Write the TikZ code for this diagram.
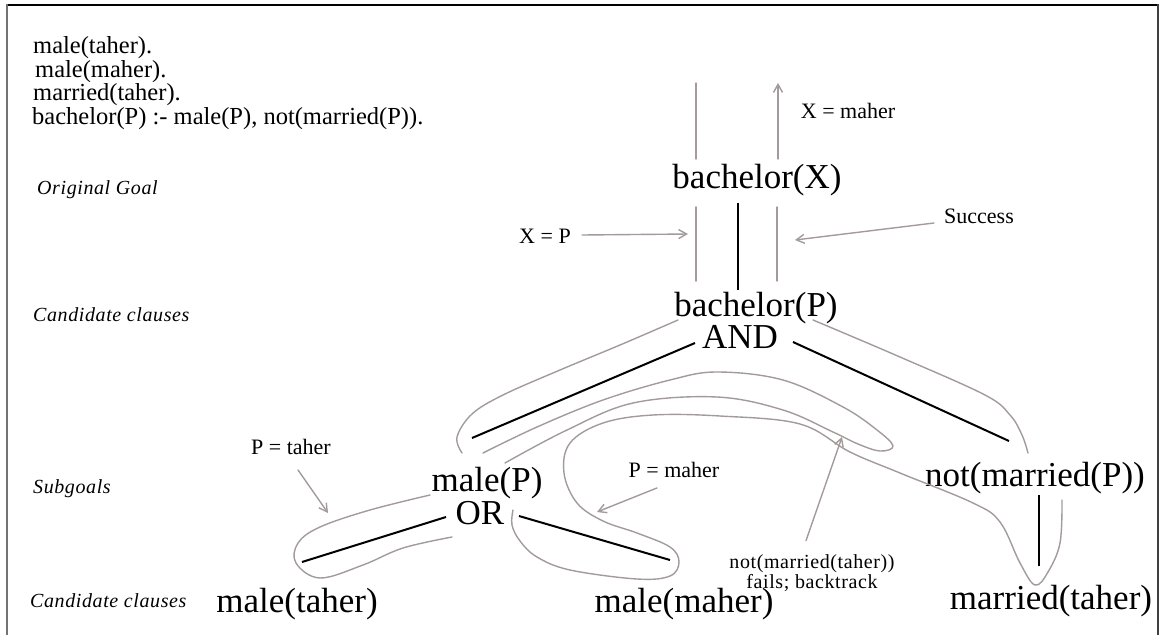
\documentclass[tikz,border=0pt]{standalone}
\usepackage{fontspec}
\setmainfont{Liberation Serif}
\newfontfamily\sidefont[LetterSpace=3]{Liberation Serif}
\newfontfamily\notefont[LetterSpace=3]{Liberation Serif}
\usetikzlibrary{arrows.meta,calc}
\definecolor{tracegray}{RGB}{163,155,155}
\begin{document}
\begin{tikzpicture}[x=1pt,y=-1pt,
  goal/.style={inner sep=0pt, font=\fontsize{35}{40}\selectfont},
  fact/.style={inner sep=0pt, anchor=base west, font=\fontsize{24.5}{26}\selectfont},
  note/.style={inner sep=0pt, font=\fontsize{22}{24}\selectfont},
  level/.style={inner sep=0pt, anchor=base west, font=\sidefont\itshape\fontsize{20}{22}\selectfont},
  tree/.style={line width=2pt, black},
  trace/.style={line width=1.4pt, tracegray, line cap=round, line join=round},
  tracearrow/.style={trace, -{Straight Barb[length=8pt,width=9pt]}}]
\useasboundingbox (0,0) rectangle (1165,635);

% frame
\draw[line width=1.4pt, black] (7,5) -- (1158,5);
\draw[line width=2.4pt, black!55] (7,4) -- (7,635);
\draw[line width=1.4pt, black!75] (1158,4) -- (1158,635);

% program text
\node[fact] (f1) at (33,53.5) {male(taher).};
\node[fact] (f2) at (35,77) {male(maher).};
\node[fact] (f3) at (33,100.5) {married(taher).};
\node[fact] (f4) at (32,124) {bachelor(P) :- male(P), not(married(P)).};

% level captions
\node[level] (l1) at (37,194) {Original Goal};
\node[level] (l2) at (33,321) {Candidate clauses};
\node[level] (l3) at (33,493) {Subgoals};
\node[level] (l4) at (30,607) {Candidate clauses};

% goal tree
\node[goal] (bX) at (757,180) {bachelor(X)};
\node[goal] (bP) at (756,308) {bachelor(P)};
\node[goal] (AND) at (740,337) {AND};
\node[goal] (maleP) at (487,483) {male(P)};
\node[goal] (OR) at (480,513) {OR};
\node[goal] (notP) at (1035,478) {not(married(P))};
\node[goal] (maleT) at (297,604) {male(taher)};
\node[goal] (maleM) at (684,604) {male(maher)};
\node[goal] (marT) at (1051,601) {married(taher)};

\draw[tree] ($(bX)+(-19,23)$) -- ($(bP)+(-18,-18)$);
\draw[tree] ($(AND)+(-45,6)$) -- ($(maleP)+(-15,-45)$);
\draw[tree] ($(AND)+(53,5)$) -- ($(notP)+(-26,-37)$);
\draw[tree] ($(OR)+(-34,4)$) -- ($(maleT)+(5,-42)$);
\draw[tree] ($(OR)+(39,3)$) -- ($(maleM)+(-14,-44)$);
\draw[tree] ($(notP)+(4,17)$) -- ($(marT)+(-12,-35)$);

% annotations
\node[note] (xm) at (848,111) {X = maher};
\node[note] (xp) at (545,236) {X = P};
\node[note] (succ) at (979,216) {Success};
\node[note] (pt) at (291,447) {P = taher};
\node[note] (pm) at (674,470) {P = maher};
\node[inner sep=0pt, align=center, font=\notefont\fontsize{20}{17}\selectfont] (fail) at (812,573) {not(married(taher))\\fails; backtrack};

% execution trace
\draw[trace] ($(bX)+(-61,-97)$) -- ($(bX)+(-61,-21)$);
\draw[tracearrow] ($(bX)+(21,-21)$) -- ($(bX)+(21,-97)$);
\draw[trace] ($(bX)+(-61,27)$) -- ($(bX)+(-61,101)$);
\draw[trace] ($(bX)+(20,27)$) -- ($(bX)+(20,101)$);
\draw[tracearrow] ($(xp.east)+(11,-1)$) -- ($(bX)+(-69,54)$);
\draw[tracearrow] ($(succ.west)+(-10,7)$) -- ($(bX)+(38,60)$);
\draw[tracearrow] ($(pt.south)+(7,15)$) -- ($(maleT)+(31,-91)$);
\draw[tracearrow] ($(pm.south)+(-17,10)$) -- ($(maleM)+(-87,-92)$);
\draw[tracearrow] ($(fail.north)+(-6,-14)$) -- ($(marT)+(-209,-164)$);

% left outline from bachelor(P)
\draw[trace] plot[smooth, tension=0.6] coordinates {
  (678,320) (620,345) (560,370) (503,395) (472,414) (457,437) (462,453)};
% right outline from bachelor(P)
\draw[trace] plot[smooth, tension=0.6] coordinates {
  (813,320) (900,357) (985,395) (1010,415) (1022,435) (1028,453)};
% hairpin towards not(married(P))
\draw[trace] plot[smooth, tension=0.6] coordinates {
  (483,453) (537,427) (603,400) (670,380) (717,372) (783,380) (843,407)
  (877,430) (893,446) (880,451) (858,444) (833,432) (783,410) (717,397)
  (633,403) (567,430) (505,463)};
% loop around male(taher)
\draw[trace] plot[smooth, tension=0.6] coordinates {
  (430,495) (370,510) (320,527) (298,543) (296,563) (320,578) (363,565)
  (403,548) (452,537)};
% loop around male(maher), then down to married(taher)
\draw[trace] plot[smooth, tension=0.6] coordinates {
  (513,510) (512,525) (520,541) (537,557) (570,570) (637,579) (670,576)
  (679,562) (670,547) (637,533) (603,521) (577,503) (564,473) (570,443)
  (603,423) (653,415) (720,416) (800,424) (850,452) (900,473) (973,503)
  (1000,522) (1020,563) (1035,585) (1048,572) (1060,543) (1062,500)};
\end{tikzpicture}
\end{document}
